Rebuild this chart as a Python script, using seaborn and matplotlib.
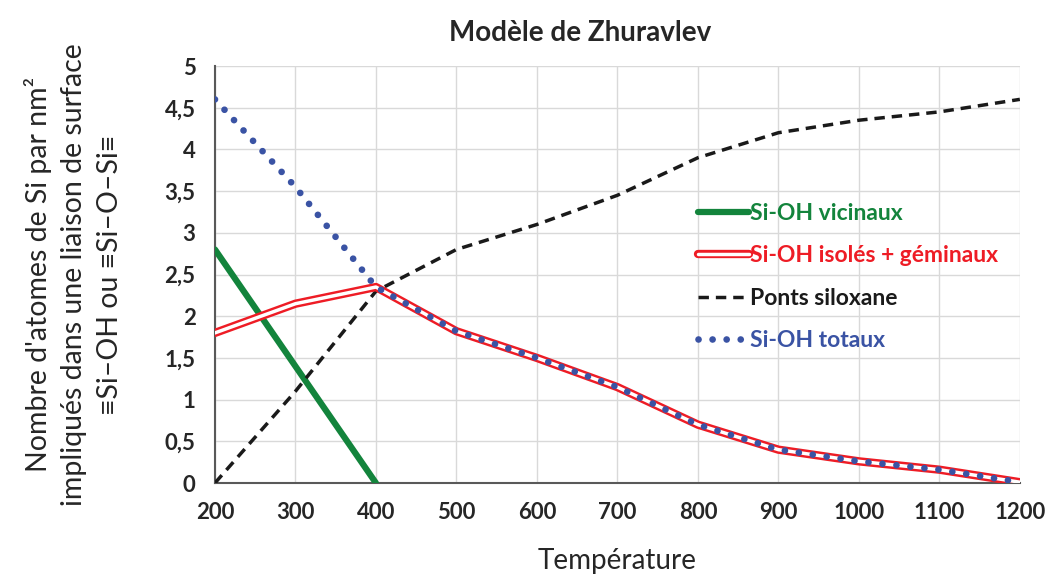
import matplotlib.pyplot as plt
import seaborn as sns
import pandas as pd
from matplotlib.ticker import FuncFormatter
from matplotlib.lines import Line2D
from matplotlib.legend_handler import HandlerTuple

# Données
temperatures = [200, 300, 400, 500, 600, 700, 800, 900, 1000, 1100, 1200]
vicinaux_T = [200, 300, 400]
vicinaux = [2.8, 1.4, 0.0]
isoles = [1.8, 2.15, 2.35, 1.82, 1.5, 1.15, 0.7, 0.4, 0.26, 0.16, 0.01]
siloxane = [0.0, 1.1, 2.3, 2.8, 3.1, 3.45, 3.9, 4.2, 4.35, 4.45, 4.6]
totaux = [4.6, 3.55, 2.35, 1.82, 1.5, 1.15, 0.7, 0.4, 0.26, 0.16, 0.01]

sns.set_style("whitegrid")
plt.rcParams['font.family'] = ['Lato', 'DejaVu Sans']

fig = plt.figure(figsize=(10.46, 5.74), dpi=100)
ax = fig.add_axes([0.2055, 0.1585, 0.7695, 0.7265])

df = pd.DataFrame({"T": temperatures, "isoles": isoles,
                   "siloxane": siloxane, "totaux": totaux})
dv = pd.DataFrame({"T": vicinaux_T, "vicinaux": vicinaux})

green = '#13843c'
red = '#ee1c25'
blue = '#3a53a4'
dots = (0, (0.01, 2.1))

sns.lineplot(data=dv, x="T", y="vicinaux", ax=ax, color=green, lw=4.5, zorder=3)
sns.lineplot(data=df, x="T", y="isoles", ax=ax, color=red, lw=6, zorder=4)
sns.lineplot(data=df, x="T", y="isoles", ax=ax, color='white', lw=2.5, zorder=5)
sns.lineplot(data=df, x="T", y="siloxane", ax=ax, color='#1a1a1a', lw=2.5,
             linestyle=(0, (3, 2)), zorder=3)
l = sns.lineplot(data=df, x="T", y="totaux", ax=ax, color=blue, lw=4.8, zorder=6)
l.lines[-1].set_linestyle(dots)
l.lines[-1].set_dash_capstyle('round')

ax.set_xlim(200, 1200)
ax.set_ylim(0, 5)
ax.set_xticks(range(200, 1201, 100))
ax.set_yticks([i * 0.5 for i in range(11)])
ax.yaxis.set_major_formatter(FuncFormatter(lambda v, p: f"{v:g}".replace('.', ',')))
ax.grid(True, color='#d9d9d9', lw=1)
for s in ['top', 'right']:
    ax.spines[s].set_visible(False)
for s in ['left', 'bottom']:
    ax.spines[s].set_color('#595959')
    ax.spines[s].set_linewidth(1.5)
ax.tick_params(axis='both', which='major', direction='out', length=6, width=1.2,
               color='#595959', labelsize=16, pad=8)
for t in ax.get_xticklabels() + ax.get_yticklabels():
    t.set_fontweight('bold')

ax.set_xlabel("Température", fontsize=20, labelpad=18)
ax.set_ylabel("Nombre d'atomes de Si par nm²\nimpliqués dans une liaison de surface\n≡Si–OH ou ≡Si–O–Si≡",
              fontsize=20.5, labelpad=30, linespacing=1.45)
fig.text(0.555, 0.943, "Modèle de Zhuravlev", ha='center', va='center',
         fontsize=20, fontweight='bold')

# Légende
h1 = Line2D([], [], color=green, lw=4.5)
h2a = Line2D([], [], color=red, lw=6)
h2b = Line2D([], [], color='white', lw=2.5)
h3 = Line2D([], [], color='#1a1a1a', lw=2.5, linestyle=(0, (3, 2)))
h4 = Line2D([], [], color=blue, lw=4.8, linestyle=dots, dash_capstyle='round')
leg = ax.legend([h1, (h2a, h2b), h3, h4],
                ["Si-OH vicinaux", "Si-OH isolés + géminaux", "Ponts siloxane", "Si-OH totaux"],
                loc='upper left', bbox_to_anchor=(0.575, 0.72), frameon=False,
                handlelength=2.2, handletextpad=0.05, labelspacing=0.92,
                handler_map={tuple: HandlerTuple(ndivide=1)},
                prop={'size': 16.5, 'weight': 'bold'})
for txt, c in zip(leg.get_texts(), [green, red, '#1a1a1a', blue]):
    txt.set_color(c)
leg.set_zorder(10)

fig.savefig("out.png", dpi=100)
